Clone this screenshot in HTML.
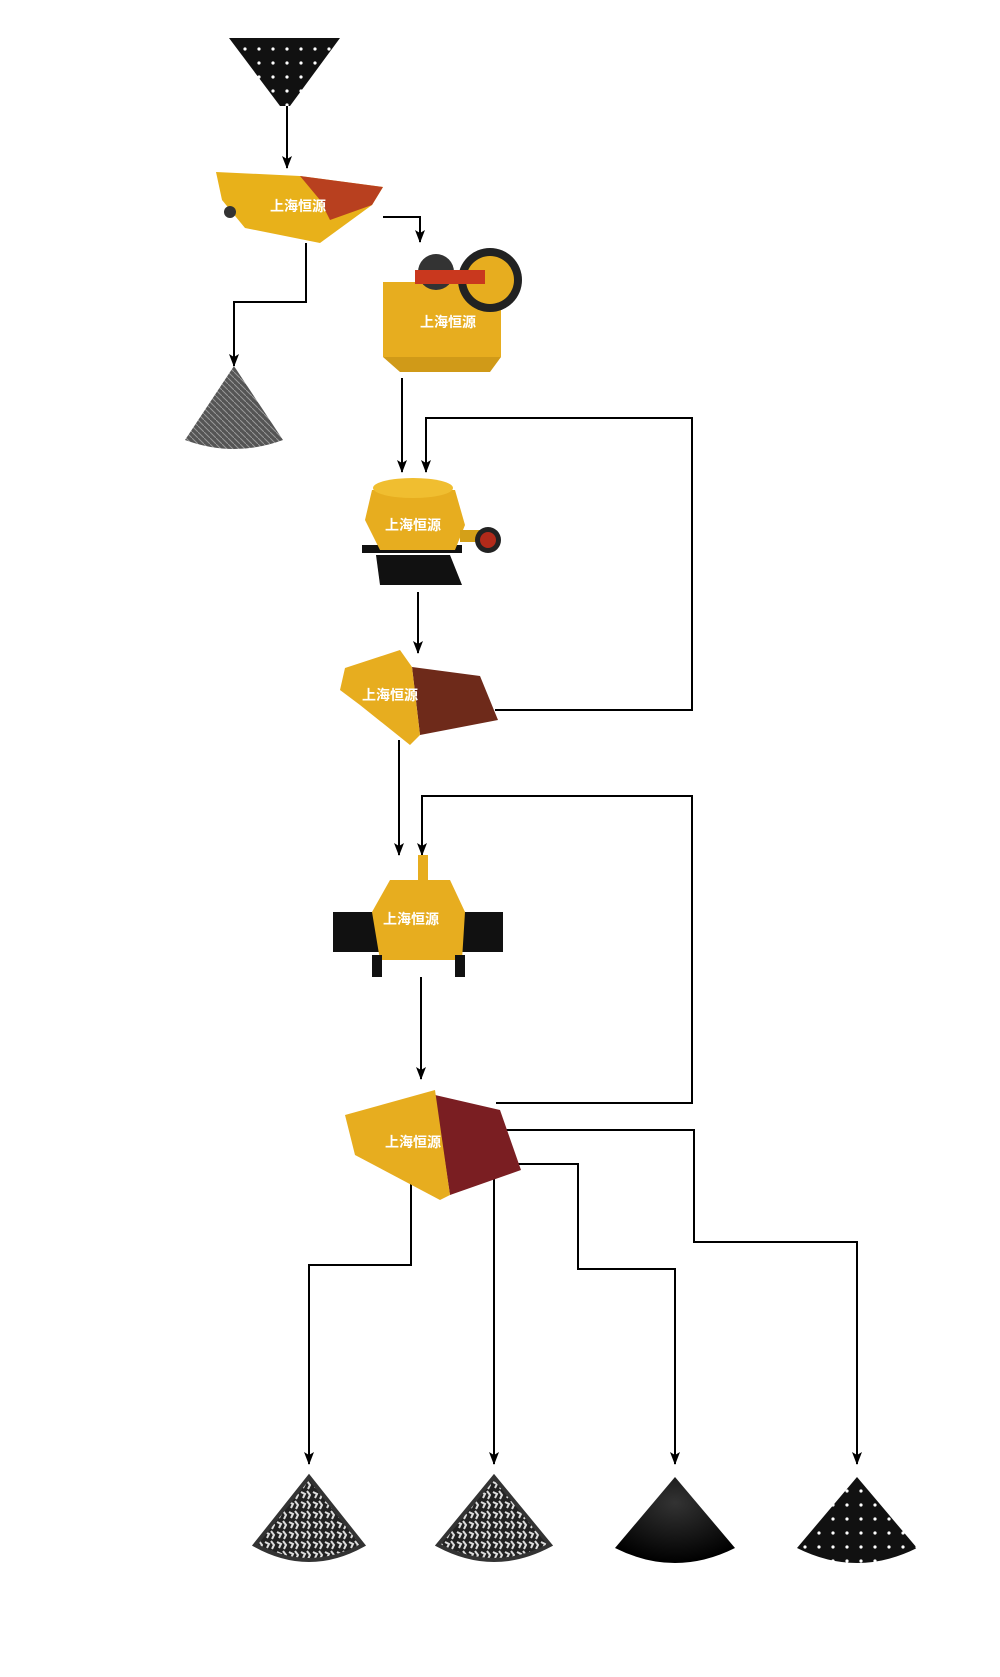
<!DOCTYPE html>
<html><head><meta charset="utf-8"><style>
html,body{margin:0;padding:0;background:#fff;width:1000px;height:1677px;overflow:hidden}
svg{display:block}
text{font-family:"Liberation Sans","Noto Sans CJK SC",sans-serif;font-weight:bold;fill:#fff;font-size:14px}
</style></head><body>
<svg width="1000" height="1677" viewBox="0 0 1000 1677" xmlns="http://www.w3.org/2000/svg">
<defs>
<marker id="a" markerWidth="13" markerHeight="10" refX="12" refY="5" orient="auto" markerUnits="userSpaceOnUse" viewBox="0 0 13 10">
<path d="M0,0 L13,5 L0,10 L3,5 Z" fill="#000"/></marker>
<radialGradient id="g" cx="50%" cy="30%" r="70%"><stop offset="0" stop-color="#333"/><stop offset="1" stop-color="#000"/></radialGradient>
<pattern id="dots" width="14" height="14" patternUnits="userSpaceOnUse"><rect width="14" height="14" fill="#111"/><circle cx="7" cy="7" r="1.6" fill="#fff"/></pattern>
<pattern id="rock" width="12" height="10" patternUnits="userSpaceOnUse"><rect width="12" height="10" fill="#222"/><path d="M1,2 L5,4 L3,8 M7,1 L10,5 L8,9" stroke="#ddd" stroke-width="2" fill="none"/></pattern>
<pattern id="grey" width="6" height="6" patternUnits="userSpaceOnUse"><rect width="6" height="6" fill="#555"/><path d="M0,0 L6,6" stroke="#999" stroke-width="1"/></pattern>
</defs>
<g stroke="#000" stroke-width="2" fill="none">
<path d="M287,106 V168" marker-end="url(#a)"/>
<path d="M383,217 H420 V242" marker-end="url(#a)"/>
<path d="M306,243 V302 H234 V366" marker-end="url(#a)"/>
<path d="M402,378 V472" marker-end="url(#a)"/>
<path d="M495,710 H692 V418 H426 V472" marker-end="url(#a)"/>
<path d="M418,592 V653" marker-end="url(#a)"/>
<path d="M399,740 V855" marker-end="url(#a)"/>
<path d="M496,1103 H692 V796 H422 V855" marker-end="url(#a)"/>
<path d="M421,977 V1079" marker-end="url(#a)"/>
<path d="M411,1181 V1265 H309 V1464" marker-end="url(#a)"/>
<path d="M494,1179 V1464" marker-end="url(#a)"/>
<path d="M516,1164 H578 V1269 H675 V1464" marker-end="url(#a)"/>
<path d="M498,1130 H694 V1242 H857 V1464" marker-end="url(#a)"/>
</g>
<!-- top hopper -->
<polygon points="229,38 340,38 290,106 280,106" fill="url(#dots)"/>
<!-- feeder -->
<polygon points="216,172 300,176 383,187 372,205 320,243 245,228 222,200" fill="#e8b11a"/>
<polygon points="300,176 383,187 372,205 330,220 320,200" fill="#b8401f"/>
<circle cx="230" cy="212" r="6" fill="#333"/>
<text x="270" y="211">上海恒源</text>
<!-- jaw crusher -->
<rect x="383" y="282" width="118" height="75" fill="#e7ad1f"/>
<polygon points="383,357 501,357 490,372 400,372" fill="#d09a18"/>
<circle cx="490" cy="280" r="32" fill="#222"/><circle cx="490" cy="280" r="24" fill="#e7ad1f"/>
<circle cx="436" cy="272" r="18" fill="#333"/>
<rect x="415" y="270" width="70" height="14" fill="#c9381e"/>
<text x="420" y="327">上海恒源</text>
<!-- left cone -->
<path d="M234,366 L283,440 Q234,458 185,440 Z" fill="url(#grey)"/>
<!-- cone crusher -->
<polygon points="376,555 450,555 462,585 380,585" fill="#111"/>
<rect x="362" y="545" width="100" height="8" fill="#111"/>
<polygon points="372,490 455,490 465,525 455,550 380,550 365,520" fill="#e7ad1f"/>
<ellipse cx="413" cy="488" rx="40" ry="10" fill="#f0be30"/>
<rect x="460" y="530" width="25" height="12" fill="#d4a018"/>
<circle cx="488" cy="540" r="13" fill="#222"/><circle cx="488" cy="540" r="8" fill="#b12a1a"/>
<text x="385" y="530">上海恒源</text>
<!-- screen 1 -->
<polygon points="412,667 480,676 498,720 420,735" fill="#6e2a1a"/>
<polygon points="345,668 400,650 412,667 420,735 410,745 360,705 340,690" fill="#e7ad1f"/>
<text x="362" y="700">上海恒源</text>
<!-- VSI -->
<rect x="333" y="912" width="170" height="40" fill="#111"/>
<polygon points="390,880 450,880 465,912 462,960 380,960 372,912" fill="#e7ad1f"/>
<rect x="418" y="855" width="10" height="30" fill="#e7ad1f"/>
<rect x="372" y="955" width="10" height="22" fill="#111"/><rect x="455" y="955" width="10" height="22" fill="#111"/>
<text x="383" y="924">上海恒源</text>
<!-- screen 2 -->
<polygon points="435,1095 500,1110 521,1170 450,1195" fill="#7a1e22"/>
<polygon points="345,1115 435,1090 450,1195 440,1200 355,1155" fill="#e7ad1f"/>
<text x="385" y="1147">上海恒源</text>
<!-- bottom cones -->
<path d="M309,1477 L363,1545 Q309,1575 255,1545 Z" fill="url(#rock)" stroke="#333" stroke-width="4"/>
<path d="M494,1477 L550,1545 Q494,1575 438,1545 Z" fill="url(#rock)" stroke="#333" stroke-width="4"/>
<path d="M675,1477 L735,1548 Q675,1578 615,1548 Z" fill="url(#g)"/>
<path d="M857,1477 L917,1548 Q857,1578 797,1548 Z" fill="url(#dots)"/>
</svg>
</body></html>
